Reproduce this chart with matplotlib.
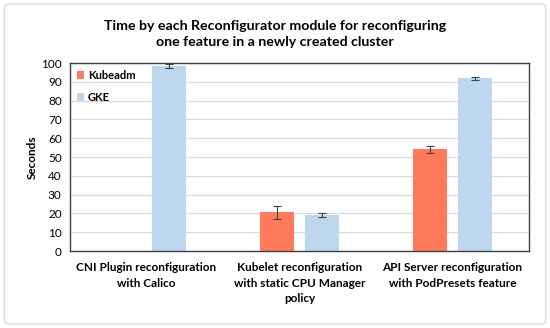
import matplotlib.pyplot as plt
from matplotlib.patches import FancyBboxPatch
import numpy as np

plt.rcParams['font.family'] = ['Lato', 'DejaVu Sans']

categories = ["CNI Plugin reconfiguration\nwith Calico",
              "Kubelet reconfiguration\nwith static CPU Manager\npolicy",
              "API Server reconfiguration\nwith PodPresets feature"]
kubeadm = [0, 20.5, 54]
kubeadm_err = [0, 3.5, 2.0]
gke = [98.5, 19, 92]
gke_err = [1.0, 1.0, 0.8]

col_kubeadm = "#FF7B5C"
col_gke = "#BDD7EE"

fig = plt.figure(figsize=(5.5, 3.28), dpi=100)
# rahmen um das ganze bild
fig.patches.append(FancyBboxPatch((0.008, 0.012), 0.984, 0.976, boxstyle="round,pad=0,rounding_size=0.01",
                                  transform=fig.transFigure, fc="none", ec="#D9D9D9", lw=1, zorder=-5))
ax = fig.add_axes([70/550, 1 - 251/328, 459/550, 188/328])

x = np.arange(len(categories))
w = 0.22
off = 0.145
ax.bar(x - off, kubeadm, w, color=col_kubeadm, label="Kubeadm", zorder=2)
ax.bar(x + off, gke, w, color=col_gke, label="GKE", zorder=2)
ka = np.array(kubeadm) > 0
ax.errorbar((x - off)[ka], np.array(kubeadm)[ka], yerr=np.array(kubeadm_err)[ka], fmt="none",
            ecolor="#404040", elinewidth=0.8, capsize=3, capthick=0.8, zorder=3)
ax.errorbar(x + off, gke, yerr=gke_err, fmt="none",
            ecolor="#404040", elinewidth=0.8, capsize=3, capthick=0.8, zorder=3)

ax.set_xlim(-0.5, 2.5)
ax.set_ylim(0, 100)
ax.set_yticks(range(0, 101, 10))
ax.yaxis.grid(True, color="#D9D9D9", lw=0.9, zorder=0)
ax.set_axisbelow(True)
ax.tick_params(axis="y", length=0, labelsize=8.5, pad=6)
ax.tick_params(axis="x", length=0, pad=8)
ax.set_xticks(x)
ax.set_xticklabels(categories, fontsize=8.5, fontweight="bold", linespacing=1.5)
for s in ax.spines.values():
    s.set_color("#404040")
    s.set_linewidth(1)
ax.set_ylabel("Seconds", fontsize=8.5, fontweight="bold", labelpad=2)

leg = ax.legend(loc="upper left", frameon=False, prop={"weight": "bold", "size": 8},
                handlelength=0.7, handleheight=0.7, handletextpad=0.3, labelspacing=1.0,
                borderaxespad=0.2)

fig.text(0.5, 1 - 34/328, "Time by each Reconfigurator module for reconfiguring\none feature in a newly created cluster",
         ha="center", va="center", fontsize=10.2, fontweight="bold", linespacing=1.5)

fig.savefig("out.png", dpi=100)
